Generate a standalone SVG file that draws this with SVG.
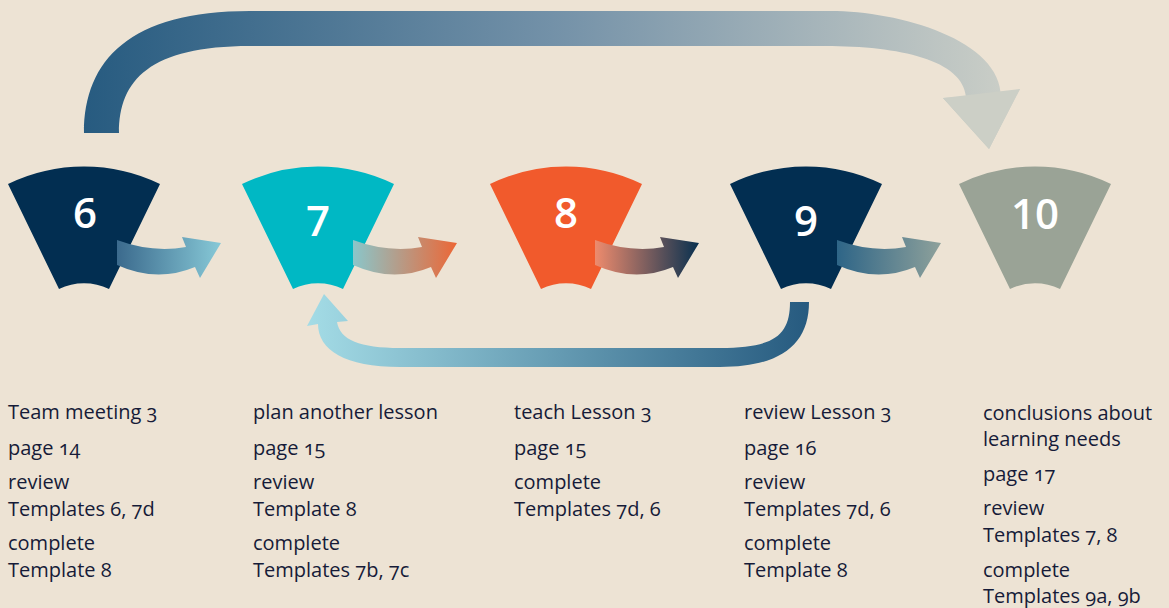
<svg xmlns="http://www.w3.org/2000/svg" width="1169" height="608" viewBox="0 0 1169 608">
<defs>
<style>
.lbl{font-family:"Open Sans","Liberation Sans",sans-serif;font-size:20px;fill:#161b38;font-variant-numeric:oldstyle-nums;}
.num{font-family:"Open Sans","Liberation Sans",sans-serif;font-size:42px;font-weight:600;fill:#ffffff;text-anchor:middle;}
</style>
<path id="fan" d="M-76,184 A173.5,173.5 0 0 1 76,184 L25,289 A56.8,56.8 0 0 0 -25,289 Z"/>
<path id="sarrow" d="M0,0 Q35,13 69,7 L65,-3 L104,3 L83,38 L78,27 Q40,43 0,25 Z"/>
<linearGradient id="gTop" gradientUnits="userSpaceOnUse" x1="84" y1="0" x2="1020" y2="0">
<stop offset="0" stop-color="#275b80"/><stop offset="0.5" stop-color="#7391a8"/><stop offset="1" stop-color="#cdd0c8"/>
</linearGradient>
<linearGradient id="gBot" gradientUnits="userSpaceOnUse" x1="307" y1="0" x2="809" y2="0">
<stop offset="0" stop-color="#a4dce6"/><stop offset="1" stop-color="#265a7f"/>
</linearGradient>
<linearGradient id="g6" x1="0" y1="0" x2="1" y2="0"><stop offset="0" stop-color="#3b6a8d"/><stop offset="1" stop-color="#87c9d7"/></linearGradient>
<linearGradient id="g7" x1="0" y1="0" x2="1" y2="0"><stop offset="0" stop-color="#8ac6ca"/><stop offset="1" stop-color="#ec6736"/></linearGradient>
<linearGradient id="g8" x1="0" y1="0" x2="1" y2="0"><stop offset="0" stop-color="#ee8b6d"/><stop offset="1" stop-color="#08304f"/></linearGradient>
<linearGradient id="g9" x1="0" y1="0" x2="1" y2="0"><stop offset="0" stop-color="#2e6587"/><stop offset="1" stop-color="#8ea19b"/></linearGradient>
</defs>
<rect width="1169" height="608" fill="#ede3d4"/>

<g id="node6"><use href="#fan" x="84" fill="#022e51"/><text class="num" x="85" y="228">6</text></g>
<g id="node7"><use href="#fan" x="318" fill="#00b8c4"/><text class="num" x="318" y="236">7</text></g>
<g id="node8"><use href="#fan" x="566" fill="#f15a2c"/><text class="num" x="566" y="228">8</text></g>
<g id="node9"><use href="#fan" x="806" fill="#022e51"/><text class="num" x="806" y="236">9</text></g>
<g id="node10"><use href="#fan" x="1035" fill="#9aa396"/><text class="num" x="1035" y="229">10</text></g>

<g id="connectors">
<path d="M84,133 C84,60 130,11 250,11 L830,11 C900,11 1001,40 1001,97 L1020,89 L989,149 L943,98 L966,97 C963,60 900,46 825,46 L250,46 C150,46 119,80 119,133 Z" fill="url(#gTop)"/>
<path d="M943,98 L1020,89 L989,149 Z" fill="#cccfc6"/>
<path d="M790,302 L809,302 C809,345 780,367 720,367 L400,367 C345,367 318,350 318,324 L307,326 L324,294 L348,321 L337,322 C340,340 360,348 400,348 L720,348 C775,348 790,335 790,302 Z" fill="url(#gBot)"/>
<use href="#sarrow" x="117" y="240" fill="url(#g6)"/>
<use href="#sarrow" x="353" y="240" fill="url(#g7)"/>
<use href="#sarrow" x="595" y="240" fill="url(#g8)"/>
<use href="#sarrow" x="837" y="240" fill="url(#g9)"/>
</g>

<g id="text6" class="lbl">
<text x="8" y="419">Team meeting 3</text>
<text x="8" y="455">page 14</text>
<text x="8" y="489">review</text>
<text x="8" y="516">Templates 6, 7d</text>
<text x="8" y="550">complete</text>
<text x="8" y="577">Template 8</text>
</g>
<g id="text7" class="lbl">
<text x="253" y="419">plan another lesson</text>
<text x="253" y="455">page 15</text>
<text x="253" y="489">review</text>
<text x="253" y="516">Template 8</text>
<text x="253" y="550">complete</text>
<text x="253" y="577">Templates 7b, 7c</text>
</g>
<g id="text8" class="lbl">
<text x="514" y="419">teach Lesson 3</text>
<text x="514" y="455">page 15</text>
<text x="514" y="489">complete</text>
<text x="514" y="516">Templates 7d, 6</text>
</g>
<g id="text9" class="lbl">
<text x="744" y="419">review Lesson 3</text>
<text x="744" y="455">page 16</text>
<text x="744" y="489">review</text>
<text x="744" y="516">Templates 7d, 6</text>
<text x="744" y="550">complete</text>
<text x="744" y="577">Template 8</text>
</g>
<g id="text10" class="lbl">
<text x="983" y="420">conclusions about</text>
<text x="983" y="446">learning needs</text>
<text x="983" y="481">page 17</text>
<text x="983" y="515">review</text>
<text x="983" y="542">Templates 7, 8</text>
<text x="983" y="577">complete</text>
<text x="983" y="603">Templates 9a, 9b</text>
</g>
</svg>
